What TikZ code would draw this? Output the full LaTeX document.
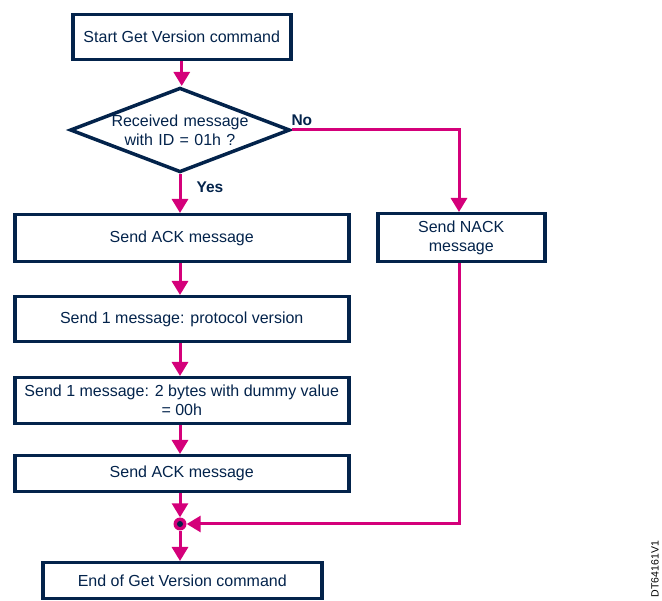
\documentclass[tikz,border=0pt]{standalone}
\usepackage{fontspec}
\setmainfont{Liberation Sans}
\usetikzlibrary{arrows.meta,shapes.geometric}
\definecolor{stnavy}{HTML}{03234B}
\definecolor{stpink}{HTML}{D4007A}
\begin{document}
\begin{tikzpicture}[x=1pt,y=-1pt,
  font=\fontsize{16}{19}\selectfont,
  stepbox/.style={draw=stnavy,line width=3.5pt,text=stnavy,inner sep=2pt,
    minimum height=#1,align=center,anchor=north west},
  decision/.style={draw=stnavy,line width=3.5pt,text=stnavy,diamond,aspect=2.6,
    inner sep=0pt,text width=140pt,align=center,minimum width=217pt,minimum height=84pt},
  flow/.style={draw=stpink,line width=3pt,-{Triangle[width=16pt,length=14pt]}},
  tag/.style={text=stnavy,font=\fontsize{15.5}{18}\selectfont\bfseries}]
\useasboundingbox (0,0) rectangle (662,601);

\node[stepbox=45pt,minimum width=218pt] (start) at (71,13) {Start Get Version command};
\node[decision] (dec) at (180,130) {Received message\\with ID = 01h ?};
\node[stepbox=47pt,minimum width=334pt] (ack1) at (13,213) {Send ACK message};
\node[stepbox=48pt,minimum width=167pt] (nack) at (376,212) {Send NACK\\message};
\node[stepbox=45pt,minimum width=334pt] (proto) at (13,295) {Send 1 message: protocol version};
\node[stepbox=46pt,minimum width=334pt] (dummy) at (13,376) {Send 1 message: 2 bytes with dummy value\\= 00h};
\node[stepbox=36pt,minimum width=334pt] (ack2) at (13,454) {Send ACK message};
\node[stepbox=36pt,minimum width=279pt] (finish) at (41,561) {End of Get Version command};

% junction where the two branches meet
\node[circle,fill=stpink,minimum size=13pt,inner sep=0pt] (join) at (180,524) {};
\fill[stnavy] (join.center) circle (3pt);

\coordinate (nocorner) at (459,130);
\coordinate (nackout) at (459,524);

\draw[flow] (start.south) -- (start.south |- dec.north);
\draw[flow] (dec.south) -- (dec.south |- ack1.north);
\draw[flow] (dec.east) -- (nocorner) -- (nocorner |- nack.north);
\draw[flow] (ack1.south -| dec.south) -- (dec.south |- proto.north);
\draw[flow] (proto.south -| dec.south) -- (dec.south |- dummy.north);
\draw[flow] (dummy.south -| dec.south) -- (dec.south |- ack2.north);
\draw[flow] (ack2.south -| join.north) -- (join.north);
\draw[flow] (nack.south -| nackout) -- (nackout) -- (join.east);
\draw[flow] (join.south) -- (join.south |- finish.north);

\node[tag,anchor=south west] (nolbl) at (288,129) {No};
\node[tag,anchor=west] (yeslbl) at (193,187) {Yes};

\node[rotate=90,text=black,font=\fontsize{10.5}{12}\selectfont,anchor=center] (docid) at (655,569) {DT64161V1};
\end{tikzpicture}
\end{document}
